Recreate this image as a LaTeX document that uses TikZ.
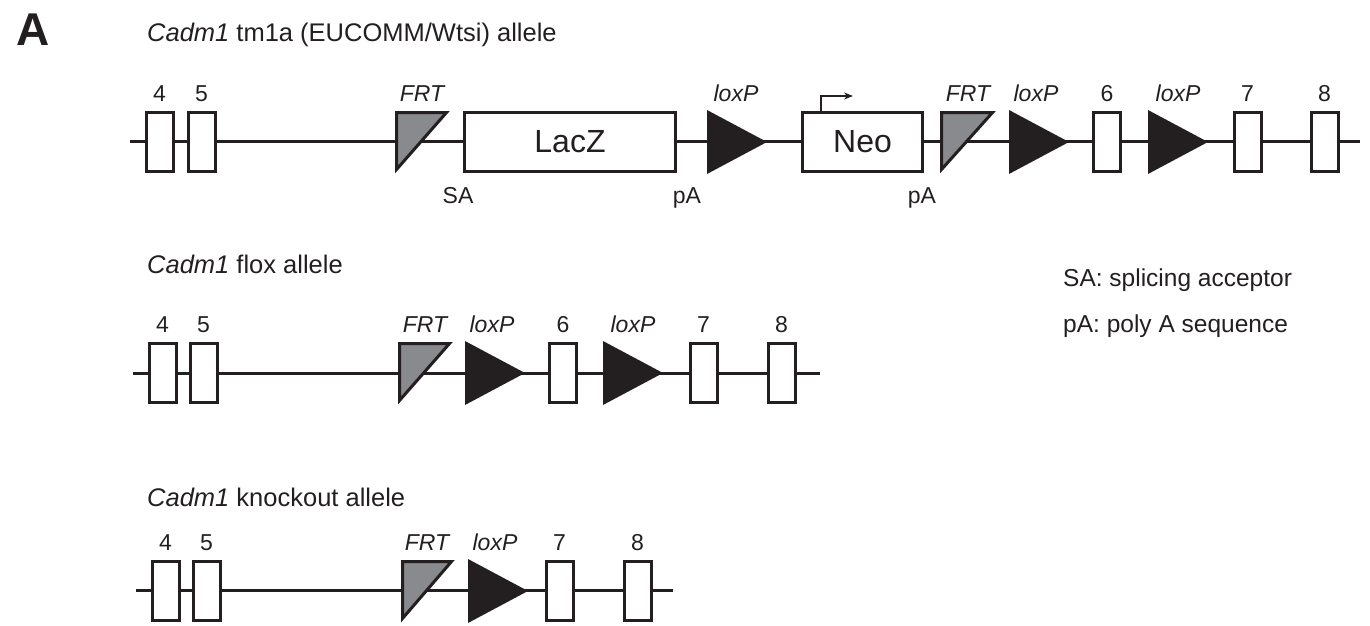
\documentclass[tikz,border=0pt]{standalone}
\usepackage{fontspec}
\setmainfont{Liberation Sans}
\usetikzlibrary{arrows.meta}
\definecolor{ink}{HTML}{231F20}
\definecolor{frtgray}{HTML}{898A8D}
\newcommand{\exn}[4]{%
  \pgfmathsetmacro{\exw}{#3-#2-3}%
  \pgfmathsetmacro{\exc}{(#2+#3)/2}%
  \node[exonbox, minimum width=\exw pt] (#1) at (\exc,#4) {};}
\newcommand{\frtat}[5]{% name, left, right, top, bottom
  \draw[frtstyle] (#2+1.5,#4+1.5) coordinate (#1) -- (#3-3.5,#4+1.5) -- (#2+1.5,#5-3.5) -- cycle;}
\newcommand{\loxat}[5]{% name, left, tip, top, bottom
  \fill[ink] (#2,#4) coordinate (#1) -- (#3,{(#4+#5)/2}) -- (#2,#5) -- cycle;}
\begin{document}
\begin{tikzpicture}[x=1pt,y=-1pt,
  backbone/.style={line width=3pt, draw=ink},
  exonbox/.style={draw=ink, line width=3pt, fill=white, rectangle, minimum height=59pt, inner sep=0pt},
  frtstyle/.style={draw=ink, line width=3pt, fill=frtgray, line join=miter},
  lbl/.style={font=\fontsize{23}{23}\selectfont, text=ink, anchor=base, inner sep=0pt},
  ilbl/.style={lbl, font=\fontsize{23}{23}\selectfont\itshape},
  boxlbl/.style={font=\fontsize{32}{32}\selectfont, text=ink, inner sep=0pt},
  ttl/.style={font=\fontsize{25.5}{25.5}\selectfont, text=ink, anchor=base west, inner sep=0pt},
  leg/.style={font=\fontsize{24.5}{24.5}\selectfont, text=ink, anchor=base west, inner sep=0pt}]
\useasboundingbox (0,0) rectangle (1370,626);

% Panel letter and titles
\node[font=\fontsize{46}{46}\selectfont\bfseries, text=ink, anchor=base west, inner sep=0pt] (panel) at (16,46) {A};
\node[ttl] (t1) at (147,42) {\textit{Cadm1} tm1a (EUCOMM/Wtsi) allele};
\node[ttl] (t2) at (147,273) {\textit{Cadm1} flox allele};
\node[ttl] (t3) at (147,506) {\textit{Cadm1} knockout allele};

% Legend
\node[leg] (leg1) at (1063,286) {SA: splicing acceptor};
\node[leg] (leg2) at (1063,332) {pA: poly A sequence};

% ---------------- Row 1: tm1a ----------------
\coordinate (s1) at (130,141);
\coordinate (e1) at (1360,141);
\draw[backbone] (s1) -- (e1);
\exn{r1e4}{145}{175}{142}
\exn{r1e5}{187}{217}{142}
\frtat{r1f1}{395}{450}{111}{173}
\pgfmathsetmacro{\lw}{677-463-3}
\node[exonbox, minimum width=\lw pt] (lacz) at (570,142) {};
\node[boxlbl] at (lacz.center) {LacZ};
\loxat{r1l1}{707}{767}{110}{174}
\pgfmathsetmacro{\nw}{924-801-3}
\node[exonbox, minimum width=\nw pt] (neo) at (862.5,142) {};
\node[boxlbl] at (neo.center) {Neo};
\draw[ink, line width=1.4pt, -{Stealth[length=9pt,width=7pt]}] ([xshift=20pt]neo.north west) |- ++(32,-15);
\frtat{r1f2}{940}{996}{111}{173}
\loxat{r1l2}{1009}{1069}{110}{174}
\exn{r1e6}{1092}{1122}{142}
\loxat{r1l3}{1148}{1208}{110}{174}
\exn{r1e7}{1233}{1263}{142}
\exn{r1e8}{1310}{1340}{142}

\node[lbl] at (159.5,101) {4};
\node[lbl] at (201.5,101) {5};
\node[ilbl] at (422,101) {FRT};
\node[ilbl] at (736,101) {loxP};
\node[ilbl] at (968,101) {FRT};
\node[ilbl] at (1036,101) {loxP};
\node[lbl] at (1107,101) {6};
\node[ilbl] at (1178,101) {loxP};
\node[lbl] at (1247.5,101) {7};
\node[lbl] at (1324.5,101) {8};
\node[lbl] at (458,203) {SA};
\node[lbl] at (687,203) {pA};
\node[lbl] at (922,203) {pA};

% ---------------- Row 2: flox ----------------
\coordinate (s2) at (133,373);
\coordinate (e2) at (820,373);
\draw[backbone] (s2) -- (e2);
\exn{r2e4}{148}{178}{373}
\exn{r2e5}{189}{219}{373}
\frtat{r2f1}{398}{453}{342}{404}
\loxat{r2l1}{465}{525}{341}{405}
\exn{r2e6}{548}{578}{373}
\loxat{r2l2}{603}{663}{341}{405}
\exn{r2e7}{689}{719}{373}
\exn{r2e8}{767}{797}{373}

\node[lbl] at (162.5,332) {4};
\node[lbl] at (203.5,332) {5};
\node[ilbl] at (425,332) {FRT};
\node[ilbl] at (492,332) {loxP};
\node[lbl] at (563,332) {6};
\node[ilbl] at (633,332) {loxP};
\node[lbl] at (703.5,332) {7};
\node[lbl] at (781.5,332) {8};

% ---------------- Row 3: knockout ----------------
\coordinate (s3) at (136,590);
\coordinate (e3) at (673,590);
\draw[backbone] (s3) -- (e3);
\exn{r3e4}{151}{181}{591}
\exn{r3e5}{192}{222}{591}
\frtat{r3f1}{401}{455}{560}{622}
\loxat{r3l1}{468}{528}{559}{623}
\exn{r3e7}{545}{575}{591}
\exn{r3e8}{623}{653}{591}

\node[lbl] at (165.5,550) {4};
\node[lbl] at (206.5,550) {5};
\node[ilbl] at (427,550) {FRT};
\node[ilbl] at (495,550) {loxP};
\node[lbl] at (559.5,550) {7};
\node[lbl] at (637.5,550) {8};
\end{tikzpicture}
\end{document}
